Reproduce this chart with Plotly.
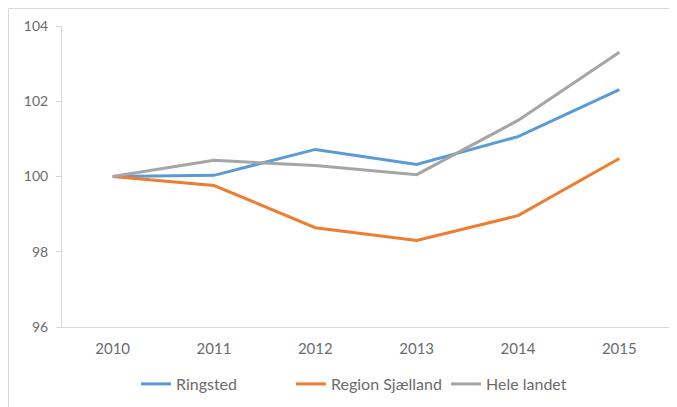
import plotly.graph_objects as go

years = [2010, 2011, 2012, 2013, 2014, 2015]
ringsted = [100.0, 100.03, 100.72, 100.32, 101.06, 102.31]
region_sjaelland = [100.0, 99.76, 98.64, 98.30, 98.96, 100.48]
hele_landet = [100.0, 100.43, 100.29, 100.05, 101.49, 103.30]
y_ticks = [96, 98, 100, 102, 104]

fig = go.Figure()
for name, vals, col in [("Ringsted", ringsted, "#5B9BD5"),
                        ("Region Sjælland", region_sjaelland, "#ED7D31"),
                        ("Hele landet", hele_landet, "#A5A5A5")]:
    fig.add_trace(go.Scatter(x=years, y=vals, mode="lines", name=name,
                             line=dict(color=col, width=3)))

OFF = 8  # page body margin
W, H = 677, 407
L, T = 62 - OFF, 26 - OFF
R = W - (670 - OFF)
B = H - (327 - OFF)
pw, ph = W - L - R, H - T - B

fig.update_layout(
    width=W, height=H,
    margin=dict(l=L, r=R, t=T, b=B, autoexpand=False),
    paper_bgcolor="white", plot_bgcolor="white",
    font=dict(family="Lato, Open Sans, sans-serif", size=14, color="#6b6b6b"),
    showlegend=True,
    legend=dict(orientation="h", x=(136 - OFF - L) / pw, xanchor="left",
                y=(327 - 384) / ph, yanchor="middle",
                font=dict(size=16, color="#6b6b6b"),
                entrywidth=110, entrywidthmode="pixels",
                tracegroupgap=0),
    xaxis=dict(range=[2009.5, 2015.5], tickvals=years, ticktext=[str(y) for y in years],
               showgrid=False, showline=True, linecolor="#D9D9D9", linewidth=1,
               ticks="", zeroline=False, tickfont=dict(size=15), ticklabelstandoff=8),
    yaxis=dict(range=[96, 104], tickvals=y_ticks, showgrid=False, showline=True,
               linecolor="#D9D9D9", linewidth=1, ticks="outside", ticklen=5,
               tickcolor="#D9D9D9", zeroline=False, ticklabelstandoff=5,
               tickfont=dict(size=14)),
    shapes=[dict(type="rect", xref="paper", yref="paper",
                 x0=(0.5 - L) / pw, x1=1.2, y0=-0.5, y1=(T - 0.5) / ph + 1,
                 line=dict(color="#D9D9D9", width=1), layer="below")],
)

fig.write_html("out.html")
